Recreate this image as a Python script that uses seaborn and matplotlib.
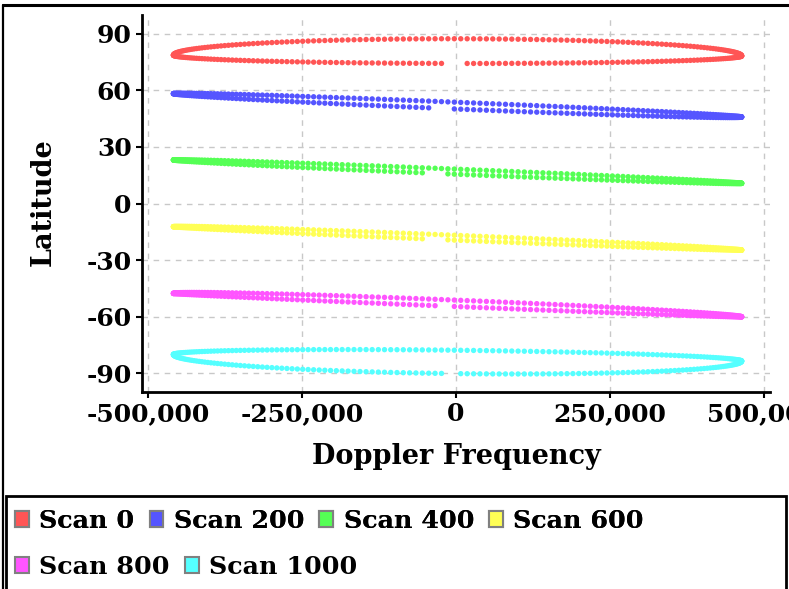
import numpy as np
import pandas as pd
import matplotlib
matplotlib.use('Agg')
import matplotlib.pyplot as plt
import seaborn as sns
from matplotlib.patches import Patch, Rectangle
from matplotlib.lines import Line2D

# ─────────────────────────────────────────────
# VALUES
# ─────────────────────────────────────────────
SCANS = ["Scan 0", "Scan 200", "Scan 400", "Scan 600", "Scan 800", "Scan 1000"]
COLORS = ["#FF5555", "#5555FF", "#55FF55", "#FFFF55", "#FF55FF", "#55FFFF"]

# latitude at the two ends of each scan track (min / max Doppler)
LAT_LEFT = [78.7, 58.3, 23.1, -12.3, -47.7, -80.1]
LAT_RIGHT = [78.3, 45.9, 10.7, -24.7, -60.1, -83.6]
# half-height of the loop above / below the track at zero Doppler (deg)
UPPER_BULGE = [8.9, 1.6, 1.3, 1.6, 2.6, 4.0]
LOWER_BULGE = [4.2, 2.0, 1.4, 1.0, 0.8, 8.4]
# missing samples on the return branch (Doppler Hz)
GAP_START = [-15000, -34000, -45000, -45000, -32000, -16000]
GAP_END = [8000, -11000, -21000, -21000, -10000, 7600]

DOPPLER_MIN, DOPPLER_MAX = -459000, 464000
N_SAMPLES = 140

X_TICKS = [-500000, -250000, 0, 250000, 500000]
Y_TICKS = [90, 60, 30, 0, -30, -60, -90]

# ─────────────────────────────────────────────
# BUILD SAMPLE TABLE (look angle swept over one revolution)
# ─────────────────────────────────────────────
rows = []
angle = np.linspace(0, np.pi, N_SAMPLES)
mid = (DOPPLER_MIN + DOPPLER_MAX) / 2
half = (DOPPLER_MAX - DOPPLER_MIN) / 2
for i, scan in enumerate(SCANS):
    freq = mid - half * np.cos(angle)
    track = LAT_LEFT[i] + (LAT_RIGHT[i] - LAT_LEFT[i]) * (freq - DOPPLER_MIN) / (DOPPLER_MAX - DOPPLER_MIN)
    up = track + UPPER_BULGE[i] * np.sin(angle)
    lo = track - LOWER_BULGE[i] * np.sin(angle)
    keep = ~((freq > GAP_START[i]) & (freq < GAP_END[i]))
    for f, la in zip(freq, up):
        rows.append((scan, f, la))
    for f, la in zip(freq[keep], lo[keep]):
        rows.append((scan, f, la))
df = pd.DataFrame(rows, columns=["scan", "doppler", "lat"])

# ─────────────────────────────────────────────
# PLOT
# ─────────────────────────────────────────────
sns.set_style("whitegrid")
plt.rcParams['font.family'] = ['DejaVu Serif']
plt.rcParams['font.weight'] = 'bold'
for key in ['text.color', 'axes.labelcolor', 'xtick.color', 'ytick.color']:
    plt.rcParams[key] = 'black'

W, H = 789, 589
fig = plt.figure(figsize=(W / 100, H / 100), dpi=100)
ax = fig.add_axes([142 / W, 1 - 392 / H, (770 - 142) / W, (392 - 15) / H])

sns.scatterplot(data=df, x="doppler", y="lat", hue="scan", hue_order=SCANS,
                palette=dict(zip(SCANS, COLORS)), s=15, linewidth=0,
                legend=False, ax=ax)

ax.set_xlim(-510000, 510000)
ax.set_ylim(-100, 100)
ax.set_xticks(X_TICKS)
ax.set_xticklabels([f"{v:,}" for v in X_TICKS])
ax.set_yticks(Y_TICKS)
ax.set_yticklabels([str(v) for v in Y_TICKS])
ax.tick_params(labelsize=18, length=4.5, width=1.5, pad=3, color='black',
               labelcolor='black', direction='out', left=True, bottom=True)
for lab in ax.get_xticklabels() + ax.get_yticklabels():
    lab.set_fontweight('bold')

ax.grid(True, color='#c8c8c8', linestyle=(0, (4, 4)), linewidth=1)
ax.set_facecolor('white')
for side in ['top', 'right']:
    ax.spines[side].set_visible(False)
for side in ['left', 'bottom']:
    ax.spines[side].set_color('black')
    ax.spines[side].set_linewidth(2)

ax.set_xlabel("Doppler Frequency", fontsize=19.5, fontweight='bold', color='black')
ax.set_ylabel("Latitude", fontsize=19.5, fontweight='bold', color='black')
ax.xaxis.set_label_coords(0.5, -0.135)
ax.yaxis.set_label_coords(-0.135, 0.504)

# outer frame (left + top)
fig.add_artist(Line2D([3 / W, 3 / W], [0, 1 - 5 / H], color='black', lw=1.6))
fig.add_artist(Line2D([3 / W, 1], [1 - 5 / H, 1 - 5 / H], color='black', lw=2.2))

# legend box
fig.add_artist(Rectangle((6 / W, -0.05), (786 - 6) / W, 0.05 + (589 - 496) / H,
                         transform=fig.transFigure, fill=False,
                         edgecolor='black', lw=2))

handles = [Patch(facecolor=c, edgecolor='#808080', linewidth=1.5, label=s)
           for s, c in zip(SCANS, COLORS)]
leg_kw = dict(frameon=False, handlelength=0.55, handleheight=0.55,
              handletextpad=0.4, columnspacing=0.6, borderaxespad=0,
              borderpad=0, labelcolor='black', prop={'weight': 'bold', 'size': 18.3})
leg1 = fig.legend(handles=handles[:4], ncol=4, loc='center left',
                  bbox_to_anchor=(15 / W, 1 - 521 / H), **leg_kw)
fig.add_artist(leg1)
fig.legend(handles=handles[4:], ncol=2, loc='center left',
           bbox_to_anchor=(15 / W, 1 - 567 / H), **leg_kw)

fig.savefig("out.png", dpi=100)
